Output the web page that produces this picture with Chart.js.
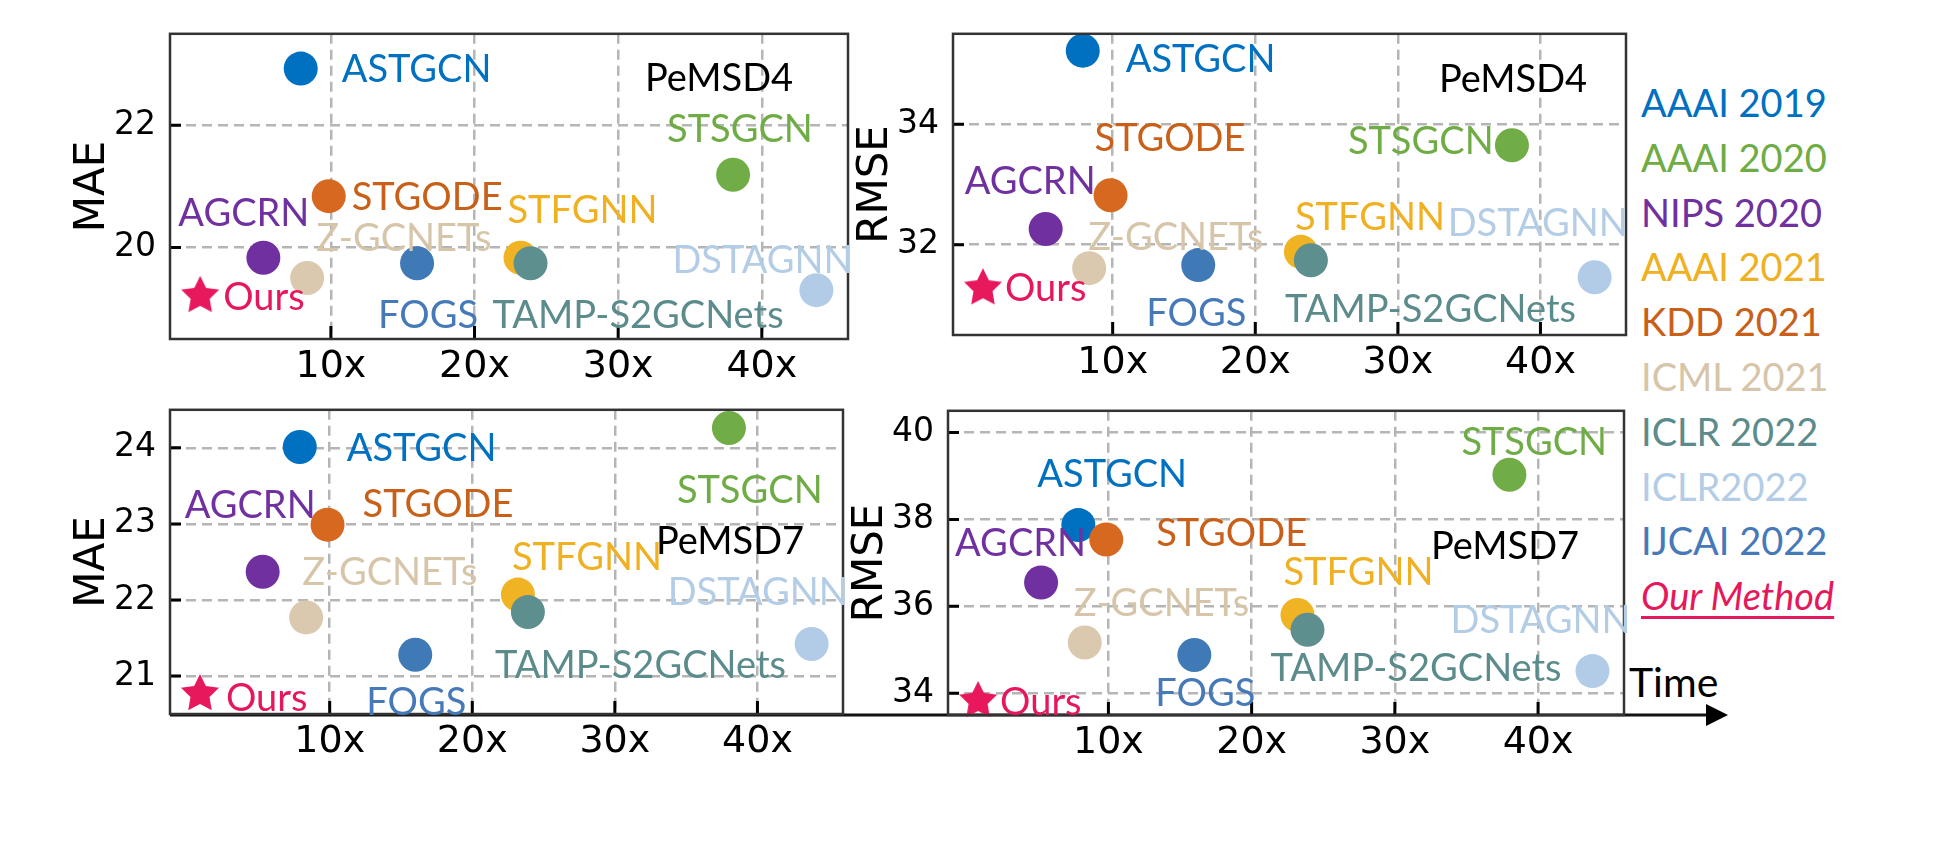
<!DOCTYPE html>
<html>
<head>
<meta charset="utf-8">
<title>Accuracy vs. training time on PeMSD4 / PeMSD7</title>
<script src="https://cdn.jsdelivr.net/npm/chart.js@4.4.0/dist/chart.umd.min.js"></script>
<style>
  html, body { margin: 0; padding: 0; background: #fff; }
  #page { position: relative; width: 1940px; height: 844px; overflow: hidden; background: #fff; }
  canvas.panel { position: absolute; }
  .venue { position: absolute; left: 1641px; font-family: Lato, "Open Sans", sans-serif; font-size: 38px; line-height: 38px; white-space: nowrap; }
  .venue.ours { font-style: italic; text-decoration: underline; text-decoration-thickness: 3px; text-underline-offset: 6px; }
  #timeLabel { position: absolute; left: 1629px; top: 661px; font-family: Lato, sans-serif; font-size: 41px; line-height: 41px; color: #000; }
  #arrow { position: absolute; left: 0; top: 0; }
</style>
</head>
<body>
<div id="page">
  <svg id="arrow" width="1940" height="844">
    <line x1="170" y1="715" x2="1710" y2="715" stroke="#111" stroke-width="3"/>
    <polygon points="1706,704 1728,715 1706,726" fill="#000"/>
  </svg>
  <div id="legend"></div>
  <div id="timeLabel">Time</div>
</div>

<script>
/* ================== Data ================== */
const models = ["ASTGCN", "STSGCN", "AGCRN", "STFGNN", "STGODE", "Z-GCNETs", "TAMP-S2GCNets", "DSTAGNN", "FOGS", "Ours"];
const venues = ["AAAI 2019", "AAAI 2020", "NIPS 2020", "AAAI 2021", "KDD 2021", "ICML 2021", "ICLR 2022", "ICLR2022", "IJCAI 2022", "Our Method"];

// relative training time (x axis)
const speedup = [7.9, 38.0, 5.3, 23.2, 9.85, 8.35, 23.9, 43.8, 16.0, 0.9];

const maePemsd4 = [22.93, 21.19, 19.83, 19.83, 20.84, 19.50, 19.74, 19.30, 19.74, 19.24];
const rmsePemsd4 = [35.22, 33.65, 32.26, 31.88, 32.82, 31.61, 31.74, 31.46, 31.66, 31.31];
const maePemsd7 = [24.01, 24.26, 22.37, 22.07, 22.99, 21.77, 21.84, 21.42, 21.28, 20.79];
const rmsePemsd7 = [37.87, 39.03, 36.55, 35.80, 37.54, 35.17, 35.46, 34.51, 34.88, 33.87];

const xTicks = [10, 20, 30, 40];
const yTicksMae4 = [20, 22];
const yTicksRmse4 = [32, 34];
const yTicksMae7 = [21, 22, 23, 24];
const yTicksRmse7 = [34, 36, 38, 40];

/* ================== Styles ================== */
const dotColors = ["#0070c0", "#70ad47", "#7030a0", "#f0b323", "#d6691f", "#dac9ae", "#5e8f8f", "#b2cce8", "#3f79b6", "#e8185d"];
const textColors = ["#0070c0", "#6fac45", "#7030a0", "#efb021", "#c9601a", "#d7c5a9", "#5b8b8b", "#b4cde6", "#4679b8", "#e6185c"];

const LABEL_FONT = '38px Lato, "Open Sans", sans-serif';
const TICK_FAMILY = '"DejaVu Sans", sans-serif';
const AXIS_W = 120, PAD_T = 20, PAD_R = 20, XAXIS_H = 60;
const X_MIN = -1.2, X_MAX = 46;

// label offsets from each dot (px), same order as models
const panels = [
  {
    values: maePemsd4, yTicks: yTicksMae4, yMin: 18.5, yMax: 23.5, title: "MAE", tag: "PeMSD4", tagAt: [475, 44],
    box: { left: 170, top: 20, right: 848, bottom: 339 },
    offsets: [[41, 0], [-66, -46], [-85, -45], [-13, -48], [23, 0], [9, -40], [-38, 51], [-144, -31], [-39, 51], [23, 3]],
  },
  {
    values: rmsePemsd4, yTicks: yTicksRmse4, yMin: 30.5, yMax: 35.5, title: "RMSE", tag: "PeMSD4", tagAt: [486, 45],
    box: { left: 953, top: 20, right: 1626, bottom: 335 },
    offsets: [[43, 8], [-164, -5], [-81, -48], [-6, -35], [-16, -58], [-1, -32], [-26, 48], [-147, -55], [-52, 47], [22, 1]],
  },
  {
    values: maePemsd7, yTicks: yTicksMae7, yMin: 20.5, yMax: 24.5, title: "MAE", tag: "PeMSD7", tagAt: [486, 131],
    box: { left: 170, top: 396, right: 843, bottom: 714 },
    offsets: [[47, 0], [-52, 61], [-78, -67], [-6, -38], [35, -21], [-4, -46], [-33, 52], [-144, -53], [-49, 47], [26, 6]],
  },
  {
    values: rmsePemsd7, yTicks: yTicksRmse7, yMin: 33.5, yMax: 40.5, title: "RMSE", tag: "PeMSD7", tagAt: [483, 135],
    box: { left: 948, top: 397, right: 1624, bottom: 715 },
    offsets: [[-41, -52], [-48, -33], [-86, -40], [-14, -44], [50, -7], [-11, -40], [-37, 38], [-142, -52], [-39, 37], [22, 3]],
  },
];

/* ================== Helpers ================== */
function starCanvas(color, r) {
  const c = document.createElement("canvas");
  const s = Math.ceil(r * 2 + 2);
  c.width = c.height = s;
  const g = c.getContext("2d");
  g.fillStyle = color;
  g.beginPath();
  for (let i = 0; i < 10; i++) {
    const rad = i % 2 ? r * 0.5 : r;
    const a = -Math.PI / 2 + (i * Math.PI) / 5;
    g.lineTo(s / 2 + rad * Math.cos(a), s / 2 + r * 0.1 + rad * Math.sin(a));
  }
  g.closePath();
  g.fill();
  return c;
}

// frame, inward ticks, model names and dataset tag
const panelDecor = {
  id: "panelDecor",
  afterDraw(chart, args, opts) {
    const { ctx, chartArea: a, scales } = chart;
    const meta = chart.getDatasetMeta(0);
    ctx.save();

    // inward tick marks
    ctx.strokeStyle = "#000";
    ctx.lineWidth = 3;
    ctx.beginPath();
    scales.y.ticks.forEach((t) => {
      const py = scales.y.getPixelForValue(t.value);
      ctx.moveTo(a.left, py);
      ctx.lineTo(a.left + 11, py);
    });
    scales.x.ticks.forEach((t) => {
      const px = scales.x.getPixelForValue(t.value);
      ctx.moveTo(px, a.bottom);
      ctx.lineTo(px, a.bottom - 13);
    });
    ctx.stroke();

    // frame
    ctx.strokeStyle = "#333";
    ctx.lineWidth = 2.5;
    ctx.strokeRect(a.left, a.top, a.right - a.left, a.bottom - a.top);

    // model names
    ctx.font = LABEL_FONT;
    ctx.textAlign = "left";
    ctx.textBaseline = "alphabetic";
    meta.data.forEach((pt, i) => {
      const [dx, dy] = opts.offsets[i];
      ctx.fillStyle = textColors[i];
      ctx.fillText(models[i], pt.x + dx, pt.y + dy + 13.5);
    });

    ctx.fillStyle = "#000";
    ctx.fillText(opts.tag, a.left + opts.tagAt[0], a.top + opts.tagAt[1] + 13.5);
    ctx.restore();
  },
};

/* ================== Charts ================== */
const page = document.getElementById("page");
const ourStar = starCanvas(dotColors[9], 20);

function buildPanel(p) {
  const w = p.box.right - p.box.left;
  const h = p.box.bottom - p.box.top;
  const cv = document.createElement("canvas");
  cv.className = "panel";
  cv.width = AXIS_W + w + PAD_R;
  cv.height = PAD_T + h + XAXIS_H;
  cv.style.left = p.box.left - AXIS_W + "px";
  cv.style.top = p.box.top - PAD_T + "px";
  cv.style.width = cv.width + "px";
  cv.style.height = cv.height + "px";
  page.appendChild(cv);

  const gridStyle = { color: "#b5b5b5", lineWidth: 2.5, drawTicks: false };

  return new Chart(cv, {
    type: "scatter",
    data: {
      datasets: [
        {
          label: p.title + " " + p.tag,
          data: models.map((m, i) => ({ x: speedup[i], y: p.values[i] })),
          pointBackgroundColor: dotColors,
          pointBorderWidth: 0,
          pointBorderColor: "rgba(0,0,0,0)",
          pointStyle: models.map((m, i) => (i === models.length - 1 ? ourStar : "circle")),
          pointRadius: 17,
          pointHoverRadius: 17,
          clip: false,
        },
      ],
    },
    options: {
      responsive: false,
      animation: false,
      devicePixelRatio: 1,
      events: [],
      layout: { padding: { left: 0, top: PAD_T, right: PAD_R, bottom: 0 } },
      plugins: {
        legend: { display: false },
        tooltip: { enabled: false },
        panelDecor: { offsets: p.offsets, tag: p.tag, tagAt: p.tagAt },
      },
      scales: {
        x: {
          type: "linear",
          min: X_MIN,
          max: X_MAX,
          afterBuildTicks: (s) => { s.ticks = xTicks.map((v) => ({ value: v })); },
          afterFit: (s) => { s.height = XAXIS_H; },
          grid: gridStyle,
          border: { display: false, dash: [10, 6] },
          ticks: { callback: (v) => v + "x", color: "#000", padding: 5, maxRotation: 0, font: { family: TICK_FAMILY, size: 38 } },
        },
        y: {
          type: "linear",
          min: p.yMin,
          max: p.yMax,
          afterBuildTicks: (s) => { s.ticks = p.yTicks.map((v) => ({ value: v })); },
          afterFit: (s) => { s.width = AXIS_W; },
          grid: gridStyle,
          border: { display: false, dash: [10, 6] },
          ticks: { color: "#000", padding: 14, font: { family: TICK_FAMILY, size: 33 } },
          title: { display: true, text: p.title, color: "#000", padding: { top: 18, bottom: 0 }, font: { family: TICK_FAMILY, size: 42 } },
        },
      },
    },
    plugins: [panelDecor],
  });
}

/* ================== Legend ================== */
function buildLegend() {
  const box = document.getElementById("legend");
  venues.forEach((v, i) => {
    const el = document.createElement("div");
    el.className = "venue" + (i === venues.length - 1 ? " ours" : "");
    el.style.top = 103 + i * 54.8 - 20 + "px";
    el.style.color = textColors[i];
    el.textContent = v;
    box.appendChild(el);
  });
}

/* ================== Init ================== */
function init() {
  buildLegend();
  panels.forEach(buildPanel);
}
document.fonts && document.fonts.load(LABEL_FONT).then(init, init) || init();
</script>
</body>
</html>
